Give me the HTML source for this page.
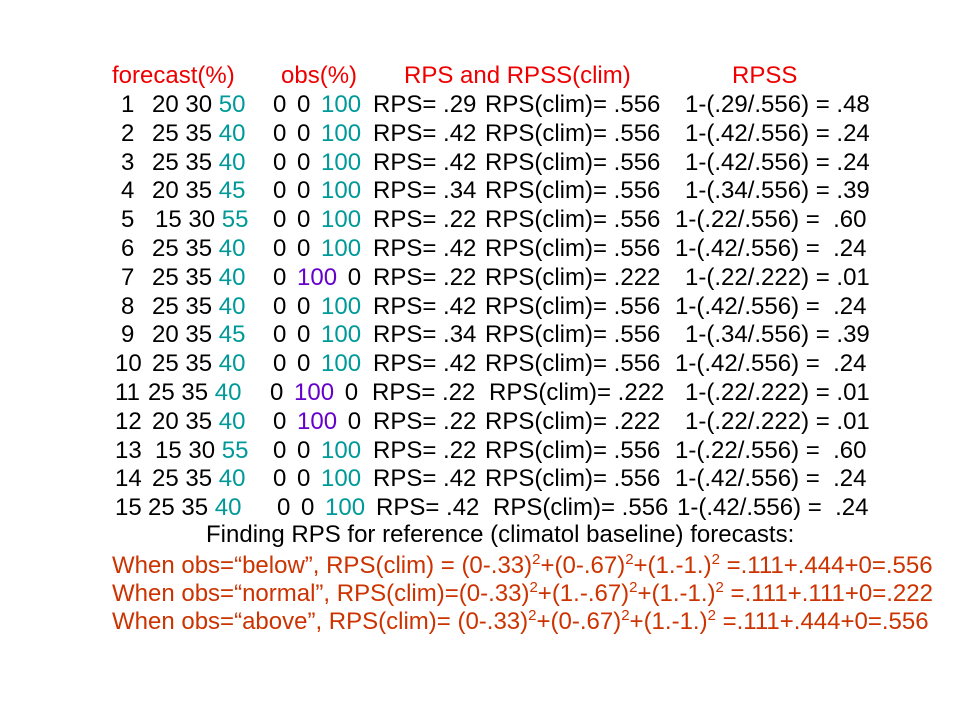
<!DOCTYPE html>
<html><head><meta charset="utf-8"><style>
body{margin:0;width:960px;height:720px;background:#fff;position:relative;overflow:hidden;font-family:"Liberation Sans",Arial,sans-serif;font-size:24px;}
.l{position:absolute;white-space:pre;line-height:28px;height:28px;}
.s{position:absolute;top:0;white-space:pre;}
.ob{word-spacing:4px}
.r{color:#ee0000}.o{color:#cc3300}.t{color:#009999}.p{color:#6600cc}
sup{font-size:15px;vertical-align:9px;line-height:0}
</style></head><body>
<div class="l r" style="top:62px;left:0;width:960px">
<span class="s" style="left:112px">forecast(%)</span><span class="s" style="left:281px">obs(%)</span><span class="s" style="left:404px">RPS and RPSS(clim)</span><span class="s" style="left:732px">RPSS</span></div>
<div id="rows"></div>
<div class="l" style="top:521px;left:206px">Finding RPS for reference (climatol baseline) forecasts:</div>
<div class="l o" style="top:552px;left:112px">When obs=“below”, RPS(clim) = (0-.33)<sup>2</sup>+(0-.67)<sup>2</sup>+(1.-1.)<sup>2</sup> =.111+.444+0=.556</div>
<div class="l o" style="top:580px;left:112px">When obs=“normal”, RPS(clim)=(0-.33)<sup>2</sup>+(1.-.67)<sup>2</sup>+(1.-1.)<sup>2</sup> =.111+.111+0=.222</div>
<div class="l o" style="top:608px;left:112px">When obs=“above”, RPS(clim)= (0-.33)<sup>2</sup>+(0-.67)<sup>2</sup>+(1.-1.)<sup>2</sup> =.111+.444+0=.556</div>
<script>
const rows=[
[1,"20 30","50","0 0 ","100","",".29",".556","1-(.29/.556) = .48",121,152,273,373,485,685],
[2,"25 35","40","0 0 ","100","",".42",".556","1-(.42/.556) = .24",121,152,273,373,485,685],
[3,"25 35","40","0 0 ","100","",".42",".556","1-(.42/.556) = .24",121,152,273,373,485,685],
[4,"20 35","45","0 0 ","100","",".34",".556","1-(.34/.556) = .39",121,152,273,373,485,685],
[5,"15 30","55","0 0 ","100","",".22",".556","1-(.22/.556) =  .60",121,155,273,373,485,675],
[6,"25 35","40","0 0 ","100","",".42",".556","1-(.42/.556) =  .24",121,152,273,373,485,675],
[7,"25 35","40","0 ","100"," 0",".22",".222","1-(.22/.222) = .01",121,152,273,373,485,685],
[8,"25 35","40","0 0 ","100","",".42",".556","1-(.42/.556) =  .24",121,152,273,373,485,675],
[9,"20 35","45","0 0 ","100","",".34",".556","1-(.34/.556) = .39",121,152,273,373,485,685],
[10,"25 35","40","0 0 ","100","",".42",".556","1-(.42/.556) =  .24",115,152,273,373,485,675],
[11,"25 35","40","0 ","100"," 0",".22",".222","1-(.22/.222) = .01",115,148,270,372,489,685],
[12,"20 35","40","0 ","100"," 0",".22",".222","1-(.22/.222) = .01",115,152,273,373,485,685],
[13,"15 30","55","0 0 ","100","",".22",".556","1-(.22/.556) =  .60",115,155,273,373,485,675],
[14,"25 35","40","0 0 ","100","",".42",".556","1-(.42/.556) =  .24",115,152,273,373,485,675],
[15,"25 35","40","0 0 ","100","",".42",".556","1-(.42/.556) =  .24",115,148,277,376,493,677]
];
const host=document.getElementById('rows');
rows.forEach((r,i)=>{
  const d=document.createElement('div');
  d.className='l';
  d.style.top=(91+i*28.8)+'px';d.style.left='0';d.style.width='960px';
  
  
  const pc=(r[0]===7||r[0]===11||r[0]===12)?'p':'t';
  d.innerHTML=
   `<span class="s" style="left:${r[9]}px">${r[0]}</span>`+
   `<span class="s" style="left:${r[10]}px">${r[1]} <span class="t">${r[2]}</span></span>`+
   `<span class="s ob" style="left:${r[11]}px">${r[3]}<span class="${pc}">${r[4]}</span>${r[5]}</span>`+
   `<span class="s" style="left:${r[12]}px">RPS= ${r[6]}</span>`+
   `<span class="s" style="left:${r[13]}px">RPS(clim)= ${r[7]}</span>`+
   `<span class="s" style="left:${r[14]}px">${r[8]}</span>`;
  host.appendChild(d);
});
</script>
</body></html>
